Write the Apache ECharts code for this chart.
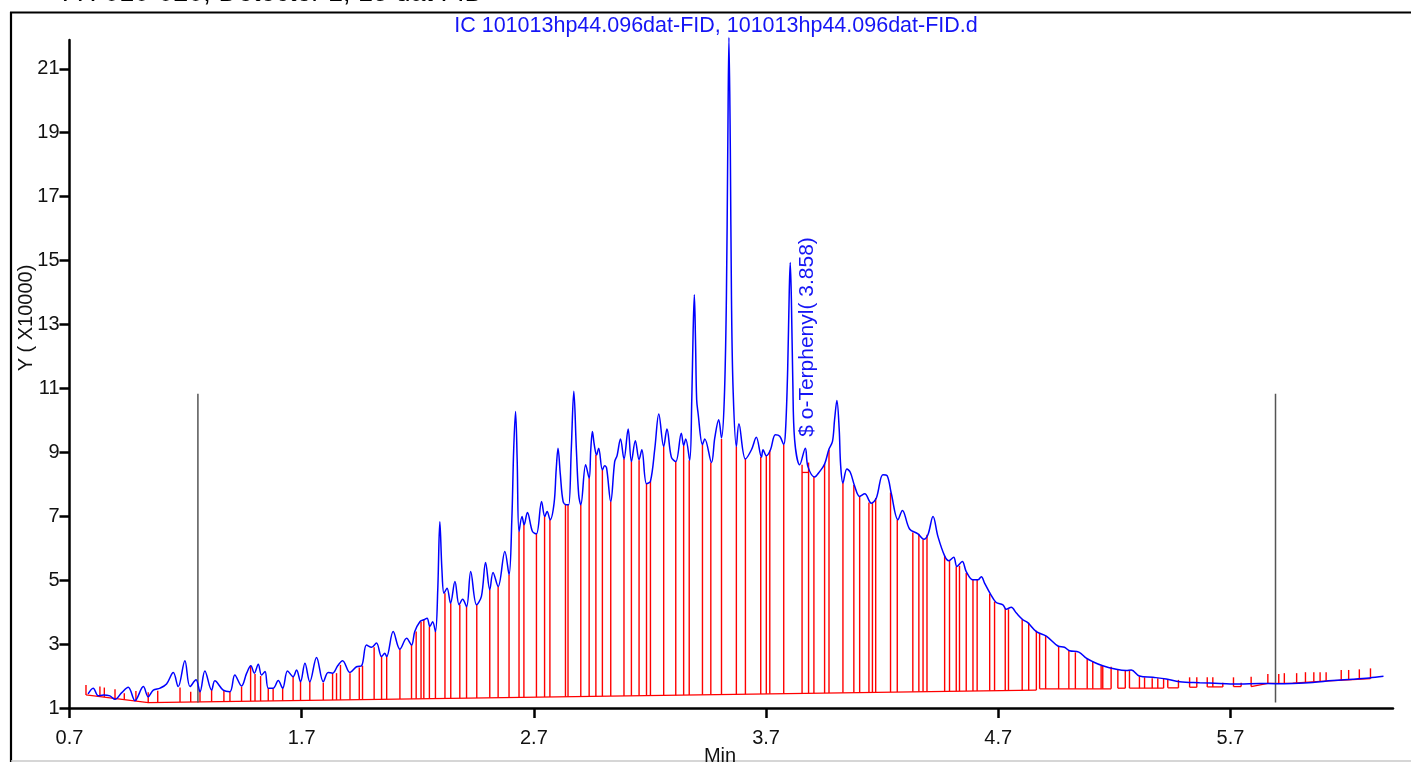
<!DOCTYPE html>
<html><head><meta charset="utf-8">
<script src="https://cdn.jsdelivr.net/npm/echarts@6/dist/echarts.min.js"></script>
<style>html,body{margin:0;padding:0;background:#fff;}#chart{width:1411px;height:762px;}</style>
</head><body><div id="chart"></div>
<script>
// Chromatogram trace: [time (min), signal (x10000)]
const blueTrace = [[0.780,1.44],[0.802,1.62],[0.824,1.38],[0.846,1.41],[0.874,1.38],[0.896,1.27],[0.925,1.48],[0.953,1.65],[0.982,1.23],[1.018,1.67],[1.039,1.35],[1.061,1.56],[1.090,1.62],[1.118,1.75],[1.147,2.11],[1.168,1.67],[1.197,2.48],[1.219,1.67],[1.245,1.88],[1.262,1.51],[1.283,2.16],[1.312,1.56],[1.326,1.85],[1.362,1.56],[1.391,1.51],[1.412,2.03],[1.441,1.69],[1.463,2.09],[1.481,2.32],[1.496,2.09],[1.513,2.37],[1.527,2.03],[1.542,2.14],[1.556,1.62],[1.577,1.62],[1.599,1.86],[1.618,1.62],[1.639,2.16],[1.663,1.98],[1.678,2.19],[1.695,1.82],[1.714,2.40],[1.735,1.82],[1.764,2.58],[1.793,1.82],[1.814,2.11],[1.833,2.09],[1.855,2.32],[1.876,2.48],[1.908,2.11],[1.936,2.29],[1.958,2.32],[1.979,2.97],[2.001,2.90],[2.022,3.03],[2.044,2.61],[2.058,2.71],[2.066,2.61],[2.094,3.39],[2.123,2.84],[2.152,3.18],[2.173,2.97],[2.187,3.39],[2.209,3.70],[2.226,3.76],[2.240,3.81],[2.252,3.55],[2.264,3.70],[2.276,3.39],[2.286,4.70],[2.295,6.83],[2.304,5.32],[2.313,4.59],[2.326,4.75],[2.341,4.28],[2.360,4.96],[2.378,4.23],[2.393,4.40],[2.410,4.17],[2.428,5.27],[2.453,4.23],[2.474,4.49],[2.492,5.55],[2.510,4.70],[2.524,5.24],[2.546,4.80],[2.575,5.90],[2.593,5.17],[2.605,6.89],[2.613,9.08],[2.621,10.28],[2.628,8.77],[2.636,6.52],[2.649,6.99],[2.658,6.73],[2.672,7.12],[2.694,6.52],[2.711,6.45],[2.733,7.46],[2.747,6.99],[2.757,7.15],[2.770,6.89],[2.787,7.41],[2.796,8.45],[2.804,9.13],[2.814,8.30],[2.826,7.46],[2.840,7.36],[2.850,7.36],[2.861,9.08],[2.872,10.91],[2.883,9.08],[2.893,7.67],[2.902,7.36],[2.923,8.61],[2.938,8.19],[2.945,9.08],[2.952,9.65],[2.960,9.24],[2.970,8.92],[2.979,9.13],[2.995,8.45],[3.005,8.58],[3.013,8.51],[3.031,7.46],[3.048,8.71],[3.058,8.89],[3.073,9.42],[3.088,8.79],[3.106,9.73],[3.120,8.71],[3.137,9.36],[3.153,8.77],[3.165,9.08],[3.185,8.02],[3.202,8.09],[3.221,9.13],[3.238,10.20],[3.259,9.18],[3.273,9.73],[3.292,8.85],[3.311,8.71],[3.335,9.60],[3.345,9.21],[3.354,9.42],[3.371,8.75],[3.380,10.65],[3.386,12.84],[3.391,13.93],[3.396,12.53],[3.401,10.65],[3.407,10.23],[3.426,9.24],[3.436,9.42],[3.465,8.68],[3.479,9.45],[3.496,10.02],[3.508,9.45],[3.520,10.65],[3.529,13.78],[3.535,18.48],[3.540,21.98],[3.546,18.48],[3.551,13.78],[3.558,10.96],[3.572,9.18],[3.583,9.89],[3.611,8.79],[3.637,9.08],[3.658,9.47],[3.680,8.85],[3.687,9.08],[3.701,8.89],[3.719,9.08],[3.740,9.55],[3.759,9.50],[3.776,9.24],[3.784,9.71],[3.793,11.59],[3.800,14.09],[3.804,14.94],[3.809,13.78],[3.815,11.27],[3.823,9.39],[3.845,8.61],[3.869,9.13],[3.880,8.56],[3.909,8.23],[3.931,8.40],[3.952,8.63],[3.971,9.10],[3.986,9.34],[3.995,10.02],[4.005,10.62],[4.015,9.71],[4.021,8.61],[4.031,8.04],[4.048,8.48],[4.063,8.37],[4.081,7.95],[4.103,7.62],[4.125,7.70],[4.153,7.41],[4.175,7.57],[4.203,8.30],[4.221,8.27],[4.239,7.72],[4.268,6.89],[4.287,7.18],[4.318,6.60],[4.354,6.45],[4.379,6.28],[4.397,6.42],[4.419,6.99],[4.440,6.37],[4.469,5.76],[4.487,5.61],[4.508,5.72],[4.522,5.43],[4.545,5.58],[4.562,5.27],[4.591,5.01],[4.612,5.01],[4.627,5.11],[4.641,4.91],[4.666,4.57],[4.691,4.30],[4.720,4.23],[4.734,4.09],[4.756,4.15],[4.778,3.97],[4.806,3.76],[4.827,3.67],[4.864,3.39],[4.907,3.25],[4.957,2.94],[4.985,2.90],[5.007,2.79],[5.047,2.75],[5.079,2.56],[5.107,2.45],[5.150,2.32],[5.208,2.21],[5.251,2.17],[5.273,2.19],[5.308,2.00],[5.366,1.96],[5.423,1.91],[5.481,1.82],[5.567,1.79],[5.653,1.77],[5.739,1.75],[5.825,1.77],[5.897,1.76],[5.968,1.77],[6.054,1.80],[6.140,1.86],[6.227,1.90],[6.298,1.94],[6.359,1.99]];

// Integration drop lines: time and top signal
const dropTime = [0.771,0.831,0.850,0.896,0.936,0.986,1.039,1.080,1.176,1.222,1.262,1.312,1.365,1.391,1.441,1.480,1.499,1.523,1.556,1.577,1.618,1.663,1.695,1.735,1.793,1.833,1.850,1.867,1.908,1.948,1.962,2.012,2.044,2.066,2.123,2.173,2.193,2.214,2.226,2.250,2.276,2.317,2.342,2.381,2.410,2.454,2.510,2.546,2.593,2.636,2.657,2.711,2.746,2.769,2.836,2.847,2.902,2.938,2.967,2.995,3.031,3.088,3.120,3.153,3.185,3.202,3.259,3.311,3.345,3.369,3.426,3.462,3.508,3.572,3.611,3.677,3.701,3.716,3.776,3.855,3.883,3.906,3.952,3.971,4.031,4.078,4.103,4.143,4.158,4.172,4.236,4.265,4.332,4.358,4.376,4.393,4.469,4.490,4.519,4.533,4.562,4.591,4.609,4.663,4.684,4.730,4.744,4.803,4.831,4.864,4.878,4.904,4.960,5.004,5.032,5.083,5.107,5.143,5.150,5.186,5.215,5.247,5.265,5.308,5.330,5.363,5.387,5.412,5.430,5.476,5.524,5.555,5.600,5.624,5.667,5.713,5.746,5.789,5.861,5.908,5.932,5.985,6.023,6.059,6.086,6.112,6.177,6.209,6.255,6.303];
const dropTop = [1.72,1.67,1.64,1.59,1.46,1.53,1.49,1.54,1.64,1.51,1.53,1.56,1.54,1.50,1.67,2.32,2.06,2.00,1.62,1.60,1.62,1.98,1.82,1.82,1.79,2.09,2.09,2.35,2.09,2.27,2.32,2.90,2.61,2.61,2.84,2.97,3.39,3.70,3.76,3.55,3.39,4.59,4.28,4.23,4.17,4.23,4.70,4.80,5.17,6.52,6.76,6.45,6.99,6.89,7.36,7.36,7.36,8.19,8.92,8.45,7.46,8.79,8.71,8.75,8.02,8.09,9.18,8.71,9.21,8.75,9.24,8.68,9.42,9.18,8.79,8.85,8.89,9.06,9.24,8.61,8.68,8.23,8.63,9.08,8.04,7.98,7.62,7.43,7.41,7.57,7.74,6.89,6.49,6.45,6.28,6.42,5.76,5.61,5.43,5.45,5.22,5.01,5.01,4.57,4.33,4.12,4.09,3.78,3.67,3.42,3.34,3.25,2.94,2.79,2.74,2.53,2.45,2.32,2.32,2.29,2.19,2.17,2.17,2.00,1.96,1.93,1.93,1.91,1.91,1.88,1.96,1.96,1.96,1.96,1.79,1.96,1.79,1.98,2.06,2.06,2.09,2.09,2.12,2.12,2.12,2.12,2.19,2.19,2.21,2.24];

// Integration baselines (polylines of [time, signal])
const baselineSegments = [
  [[0.771,1.41],[1.039,1.17],[4.864,1.56]],
  [[4.878,1.60],[5.186,1.60]],
  [[5.215,1.62],[5.247,1.62]],
  [[5.265,1.62],[5.412,1.62]],
  [[5.430,1.63],[5.476,1.63]],
  [[5.524,1.65],[5.555,1.65]],
  [[5.600,1.66],[5.667,1.66]],
  [[5.713,1.67],[5.746,1.67]],
  [[5.789,1.67],[5.861,1.77]],
  [[5.861,1.77],[5.968,1.78],[6.086,1.83],[6.227,1.89],[6.303,1.92]],
  [[3.855,8.37],[3.883,8.37]]
];

const markerTimes = [1.253, 5.894];
const markerRange = [1.17, 10.83];
const xTicks = [0.7, 1.7, 2.7, 3.7, 4.7, 5.7];
const yTicks = [1, 3, 5, 7, 9, 11, 13, 15, 17, 19, 21];

const titleText = 'IC 101013hp44.096dat-FID, 101013hp44.096dat-FID.d';
const headerText = 'A : 010-020, Detector 1, 15 dat FID';
const peakLabel = '$ o-Terphenyl( 3.858)';
const yName = 'Y ( X10000)';
const xName = 'Min';

const FONT = '"Liberation Sans", Arial, sans-serif';
const BLUE = '#0000ff';
const RED = '#ff0000';

function baseAt(t) {
  for (const seg of baselineSegments) {
    const a = seg[0][0], b = seg[seg.length - 1][0];
    if (t >= a - 0.004 && t <= b + 0.004) {
      for (let i = 0; i < seg.length - 1; i++) {
        const p = seg[i], q = seg[i + 1];
        if (t <= q[0] + 0.004 || i === seg.length - 2) {
          let f = (t - p[0]) / (q[0] - p[0]);
          f = Math.max(0, Math.min(1, f));
          return p[1] + f * (q[1] - p[1]);
        }
      }
    }
  }
  return 1.2;
}

const chart = echarts.init(document.getElementById('chart'));
const option = {
  animation: false,
  backgroundColor: '#fff',
  grid: { left: 69.5, right: 18, top: 40, bottom: 54 },
  xAxis: {
    type: 'value', min: 0.7, max: 6.4,
    axisLine: { onZero: false, lineStyle: { color: '#000', width: 2.5 } },
    axisTick: { show: true, customValues: xTicks, length: 10, lineStyle: { color: '#000', width: 2.5 } },
    axisLabel: { customValues: xTicks, color: '#111', fontSize: 20, fontFamily: FONT, margin: 20,
      formatter: v => Number(v).toFixed(1) },
    splitLine: { show: false }
  },
  yAxis: {
    type: 'value', min: 1, max: 21.9,
    axisLine: { show: true, onZero: false, lineStyle: { color: '#000', width: 2.5 } },
    axisTick: { show: true, customValues: yTicks, length: 10, lineStyle: { color: '#000', width: 2.5 } },
    axisLabel: { customValues: yTicks, color: '#111', fontSize: 20, fontFamily: FONT, margin: 10,
      formatter: v => String(Math.round(v)) },
    splitLine: { show: false }
  },
  series: [
    {
      type: 'custom', name: 'baseline', z: 2, clip: false,
      data: baselineSegments.map((s, i) => [s[0][0], s[0][1], i]),
      encode: { x: 0, y: 1 },
      renderItem: (params, api) => {
        const seg = baselineSegments[params.dataIndex];
        return { type: 'polyline', shape: { points: seg.map(p => api.coord(p)) },
          style: { stroke: RED, lineWidth: 1.3, fill: null } };
      }
    },
    {
      type: 'custom', name: 'drops', z: 2, clip: false,
      data: dropTime.map((t, i) => [t, dropTop[i]]),
      encode: { x: 0, y: 1 },
      renderItem: (params, api) => {
        const t = api.value(0), top = api.value(1);
        const p1 = api.coord([t, baseAt(t)]);
        const p2 = api.coord([t, top]);
        return { type: 'line', shape: { x1: p1[0], y1: p1[1], x2: p2[0], y2: p2[1] },
          style: { stroke: RED, lineWidth: 1.4 } };
      }
    },
    {
      type: 'custom', name: 'markers', z: 2, clip: false,
      data: markerTimes.map(t => [t, markerRange[1]]),
      encode: { x: 0, y: 1 },
      renderItem: (params, api) => {
        const t = api.value(0);
        const p1 = api.coord([t, markerRange[0]]);
        const p2 = api.coord([t, markerRange[1]]);
        return { type: 'line', shape: { x1: p1[0], y1: p1[1], x2: p2[0], y2: p2[1] },
          style: { stroke: '#555', lineWidth: 1.5 } };
      }
    },
    {
      type: 'line', name: 'FID', z: 5, clip: false,
      data: blueTrace, showSymbol: false, symbol: 'none', smooth: 0.35,
      lineStyle: { color: BLUE, width: 1.5 }
    }
  ],
  graphic: [
    { type: 'line', shape: { x1: 11, y1: 12, x2: 11, y2: 762 }, style: { stroke: '#000', lineWidth: 2.2 } },
    { type: 'line', shape: { x1: 10, y1: 12.5, x2: 1411, y2: 12.5 }, style: { stroke: '#000', lineWidth: 2.2 } },
    { type: 'line', shape: { x1: 11, y1: 761, x2: 1411, y2: 761 }, style: { stroke: '#c8c8c8', lineWidth: 1.5 } },
    { type: 'text', x: 484, y: -6.5, style: { text: headerText, fontSize: 27, fontFamily: FONT, fill: '#000',
        textAlign: 'right', textVerticalAlign: 'middle', align: 'right', verticalAlign: 'middle' } },
    { type: 'text', x: 716, y: 26, style: { text: titleText, fontSize: 21.5, fontFamily: FONT, fill: '#1515f5',
        textAlign: 'center', textVerticalAlign: 'middle', align: 'center', verticalAlign: 'middle' } },
    { type: 'text', x: 26, y: 318, rotation: Math.PI / 2, style: { text: yName, fontSize: 20, fontFamily: FONT, fill: '#111',
        textAlign: 'center', textVerticalAlign: 'middle', align: 'center', verticalAlign: 'middle' } },
    { type: 'text', x: 807.5, y: 337, rotation: Math.PI / 2, style: { text: peakLabel, fontSize: 21, fontFamily: FONT, fill: '#1515f5',
        textAlign: 'center', textVerticalAlign: 'middle', align: 'center', verticalAlign: 'middle' } },
    { type: 'text', x: 720, y: 746, style: { text: xName, fontSize: 20, fontFamily: FONT, fill: '#111',
        textAlign: 'center', textVerticalAlign: 'top', align: 'center', verticalAlign: 'top' } }
  ]
};
chart.setOption(option);
</script>
</body></html>
